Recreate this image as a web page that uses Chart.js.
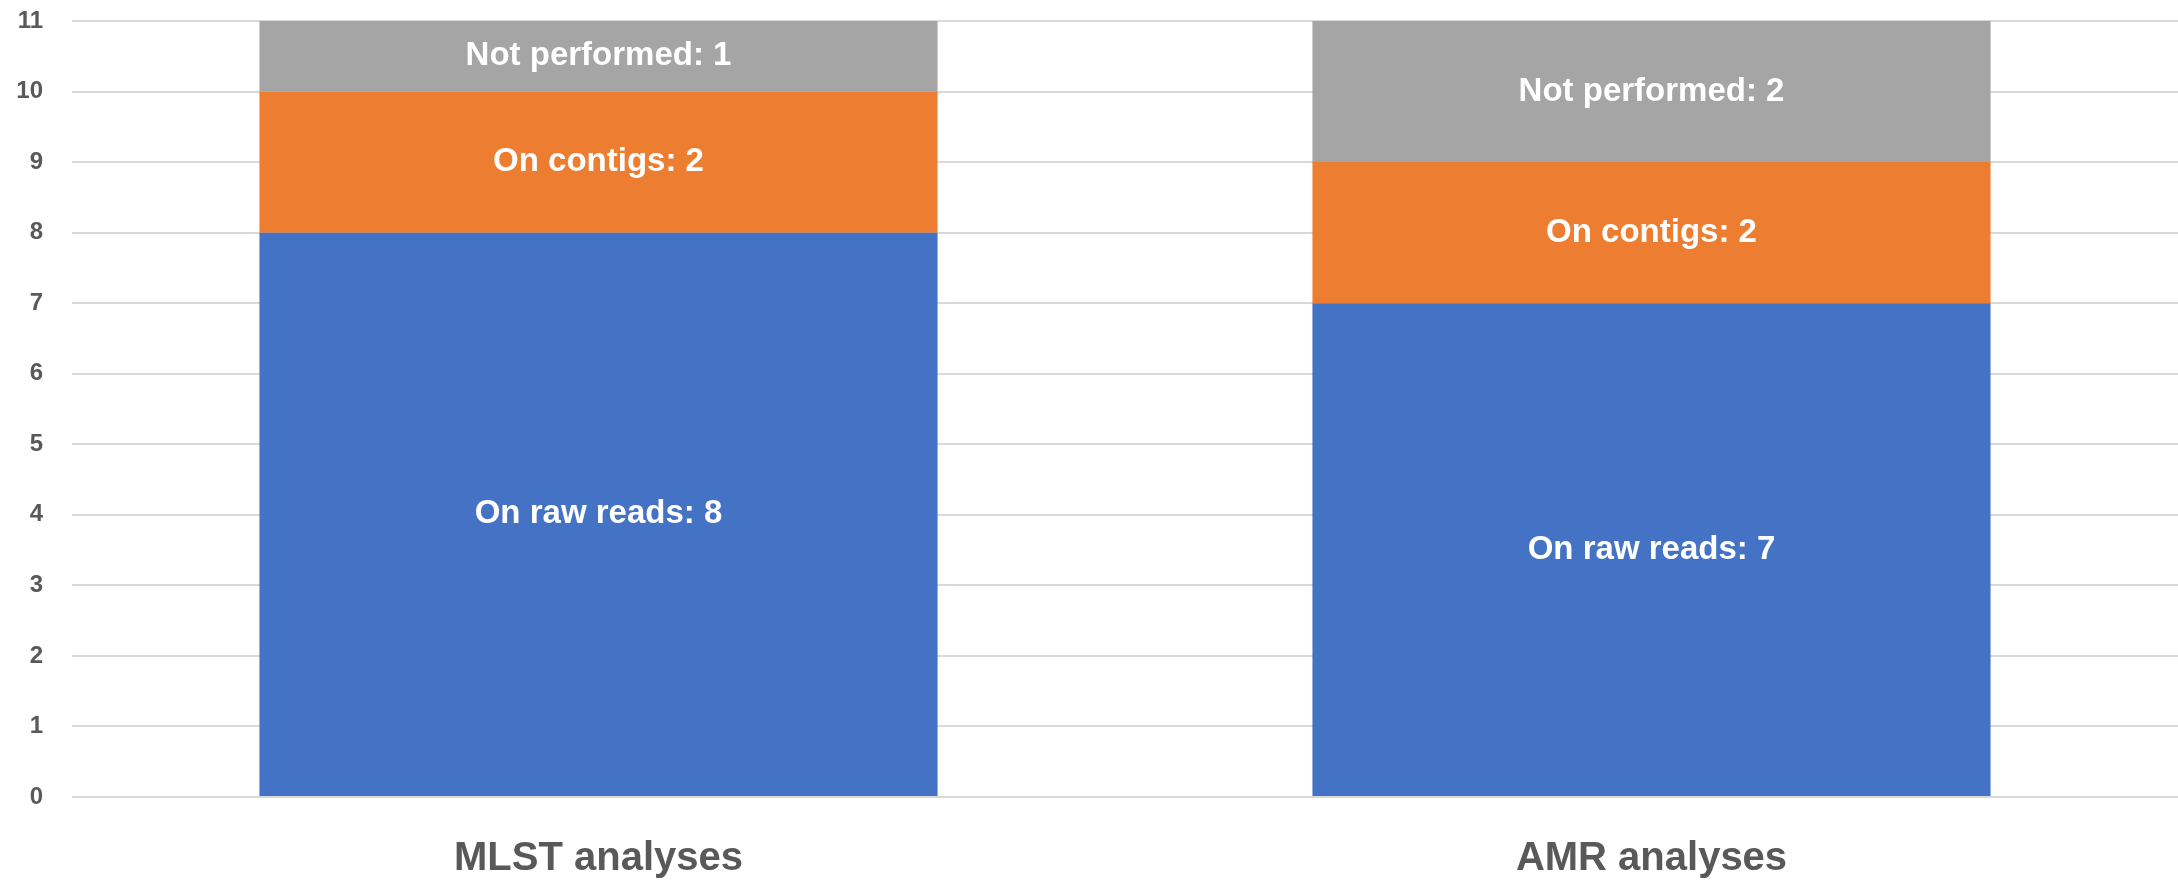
<!DOCTYPE html>
<html>
<head>
<meta charset="utf-8">
<title>Analyses</title>
<script src="https://cdn.jsdelivr.net/npm/chart.js@4/dist/chart.umd.min.js"></script>
<style>
  html, body { margin: 0; padding: 0; background: #fff; }
  #chart-wrap { width: 2178px; height: 884px; }
</style>
</head>
<body>
<div id="chart-wrap">
  <canvas id="analyses-chart" width="2178" height="884"></canvas>
</div>
<script>
const categories = ['MLST analyses', 'AMR analyses'];
const rawReads = [8, 7];
const onContigs = [2, 2];
const notPerformed = [1, 2];
const yTicks = [0, 1, 2, 3, 4, 5, 6, 7, 8, 9, 10, 11];

const FONT = "'Liberation Sans', Arial, sans-serif";
const TEXT_GREY = '#595959';

// writes "<series>: <value>" in the middle of every bar segment
const segmentLabels = {
  id: 'segmentLabels',
  afterDatasetsDraw(chart) {
    const { ctx } = chart;
    ctx.save();
    ctx.font = `bold 33px ${FONT}`;
    ctx.fillStyle = '#ffffff';
    ctx.textAlign = 'center';
    ctx.textBaseline = 'middle';
    chart.data.datasets.forEach((ds, i) => {
      chart.getDatasetMeta(i).data.forEach((bar, j) => {
        const value = ds.data[j];
        if (!value) return;
        const { x, y, base } = bar.getProps(['x', 'y', 'base'], true);
        ctx.fillText(`${ds.label}: ${value}`, x, (y + base) / 2);
      });
    });
    ctx.restore();
  },
};

const chartCanvas = document.getElementById('analyses-chart');
const analysesChart = new Chart(chartCanvas, {
  type: 'bar',
  data: {
    labels: categories,
    datasets: [
      { label: 'On raw reads', data: rawReads, backgroundColor: '#4472C4' },
      { label: 'On contigs', data: onContigs, backgroundColor: '#ED7D31' },
      { label: 'Not performed', data: notPerformed, backgroundColor: '#A5A5A5' },
    ],
  },
  options: {
    responsive: false,
    animation: false,
    layout: {
      padding: { left: 16, right: 0, top: 21, bottom: 0 },
    },
    datasets: {
      bar: {
        categoryPercentage: 1,
        barPercentage: 0.644,
        borderWidth: 0,
      },
    },
    plugins: {
      legend: { display: false },
      tooltip: { enabled: false },
    },
    scales: {
      x: {
        stacked: true,
        afterFit: (axis) => {
          axis.height = 87;
        },
        grid: { display: false },
        border: { display: false },
        ticks: {
          padding: 30,
          color: TEXT_GREY,
          font: { family: FONT, size: 40, weight: 'bold' },
        },
      },
      y: {
        stacked: true,
        min: yTicks[0],
        max: yTicks[yTicks.length - 1],
        afterBuildTicks: (axis) => {
          axis.ticks = yTicks.map((v) => ({ value: v }));
        },
        afterFit: (axis) => {
          // fixed axis width; let the top label overhang the padding
          axis.width = 56;
          axis.paddingTop = 0;
          axis.paddingBottom = 0;
        },
        grid: {
          color: '#D9D9D9',
          lineWidth: 2,
          drawTicks: false,
        },
        border: { display: false },
        ticks: {
          padding: 29,
          color: TEXT_GREY,
          font: { family: FONT, size: 24, weight: 'bold' },
        },
      },
    },
  },
  plugins: [segmentLabels],
});
</script>
</body>
</html>
